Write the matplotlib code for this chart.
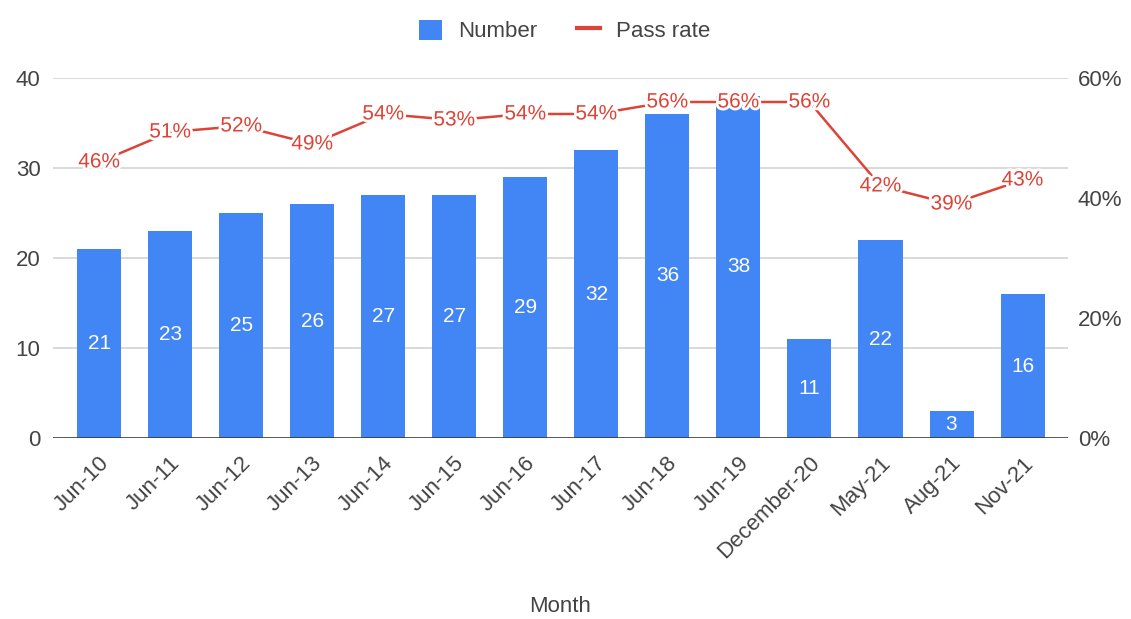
import matplotlib
matplotlib.use('Agg')
import matplotlib.pyplot as plt
import matplotlib.patheffects as pe
from matplotlib.lines import Line2D
from matplotlib.patches import Patch
from matplotlib.ticker import FuncFormatter
from matplotlib.transforms import ScaledTranslation

months = ['Jun-10', 'Jun-11', 'Jun-12', 'Jun-13', 'Jun-14', 'Jun-15', 'Jun-16',
          'Jun-17', 'Jun-18', 'Jun-19', 'December-20', 'May-21', 'Aug-21', 'Nov-21']
number = [21, 23, 25, 26, 27, 27, 29, 32, 36, 38, 11, 22, 3, 16]
pass_rate = [46, 51, 52, 49, 54, 53, 54, 54, 56, 56, 56, 42, 39, 43]

BLUE = '#4285f4'
RED = '#db4437'
TEXT = '#444444'
GRID = '#d9d9d9'

plt.rcParams['font.family'] = ['Liberation Sans', 'DejaVu Sans']

fig = plt.figure(figsize=(11.31, 6.19), dpi=100)
ax = fig.add_axes([0.0469, 0.2924, 0.8974, 0.5816])
ax2 = ax.twinx()

x = list(range(len(months)))

# bars: Number, left axis
ax.bar(x, number, width=0.62, color=BLUE, zorder=2)
for xi, v in zip(x, number):
    ax.text(xi, v / 2, str(v), ha='center', va='center', color='white',
            fontsize=15, zorder=3)

ax.set_ylim(0, 40)
ax.set_xlim(-0.65, len(months) - 1 + 0.64)
ax.set_yticks([0, 10, 20, 30, 40])
ax.grid(axis='y', color=GRID, lw=1.4, zorder=0)
ax.set_axisbelow(True)
ax.axhline(0, color='#333333', lw=1.8, zorder=4)

# line: Pass rate, right axis
ax2.plot(x, pass_rate, color=RED, lw=1.8, zorder=5)
for xi, v in zip(x, pass_rate):
    ax2.text(xi, v, f'{v}%', ha='center', va='center', color=RED,
             fontsize=15, zorder=6,
             path_effects=[pe.withStroke(linewidth=4, foreground='white')])
ax2.set_ylim(0, 60)
ax2.set_yticks([0, 20, 40, 60])
ax2.yaxis.set_major_formatter(FuncFormatter(lambda v, _: f'{v:.0f}%'))

for a in (ax, ax2):
    for s in a.spines.values():
        s.set_visible(False)
    a.tick_params(length=0, labelsize=16, colors=TEXT)
ax.tick_params(axis='y', pad=9)
ax2.tick_params(axis='y', pad=7)

ax.set_xticks(x, months, rotation=45, ha='right', va='center',
              rotation_mode='anchor')
ax.tick_params(axis='x', pad=16)
offset = ScaledTranslation(7 / 100, 0, fig.dpi_scale_trans)
for lab in ax.get_xticklabels():
    lab.set_transform(lab.get_transform() + offset)

fig.text(0.495, 1 - 607 / 619, 'Month', ha='center', va='center',
         fontsize=16, color=TEXT)

handles = [Patch(facecolor=BLUE, edgecolor='none'),
           Line2D([0], [0], color=RED, lw=3)]
fig.legend(handles, ['Number', 'Pass rate'], loc='center',
           bbox_to_anchor=(0.499, 1 - 31 / 619), ncol=2, frameon=False,
           fontsize=16, handlelength=1.05, handleheight=1.0,
           columnspacing=1.8, handletextpad=0.7, labelcolor=TEXT)

fig.savefig('out.png', dpi=100)
